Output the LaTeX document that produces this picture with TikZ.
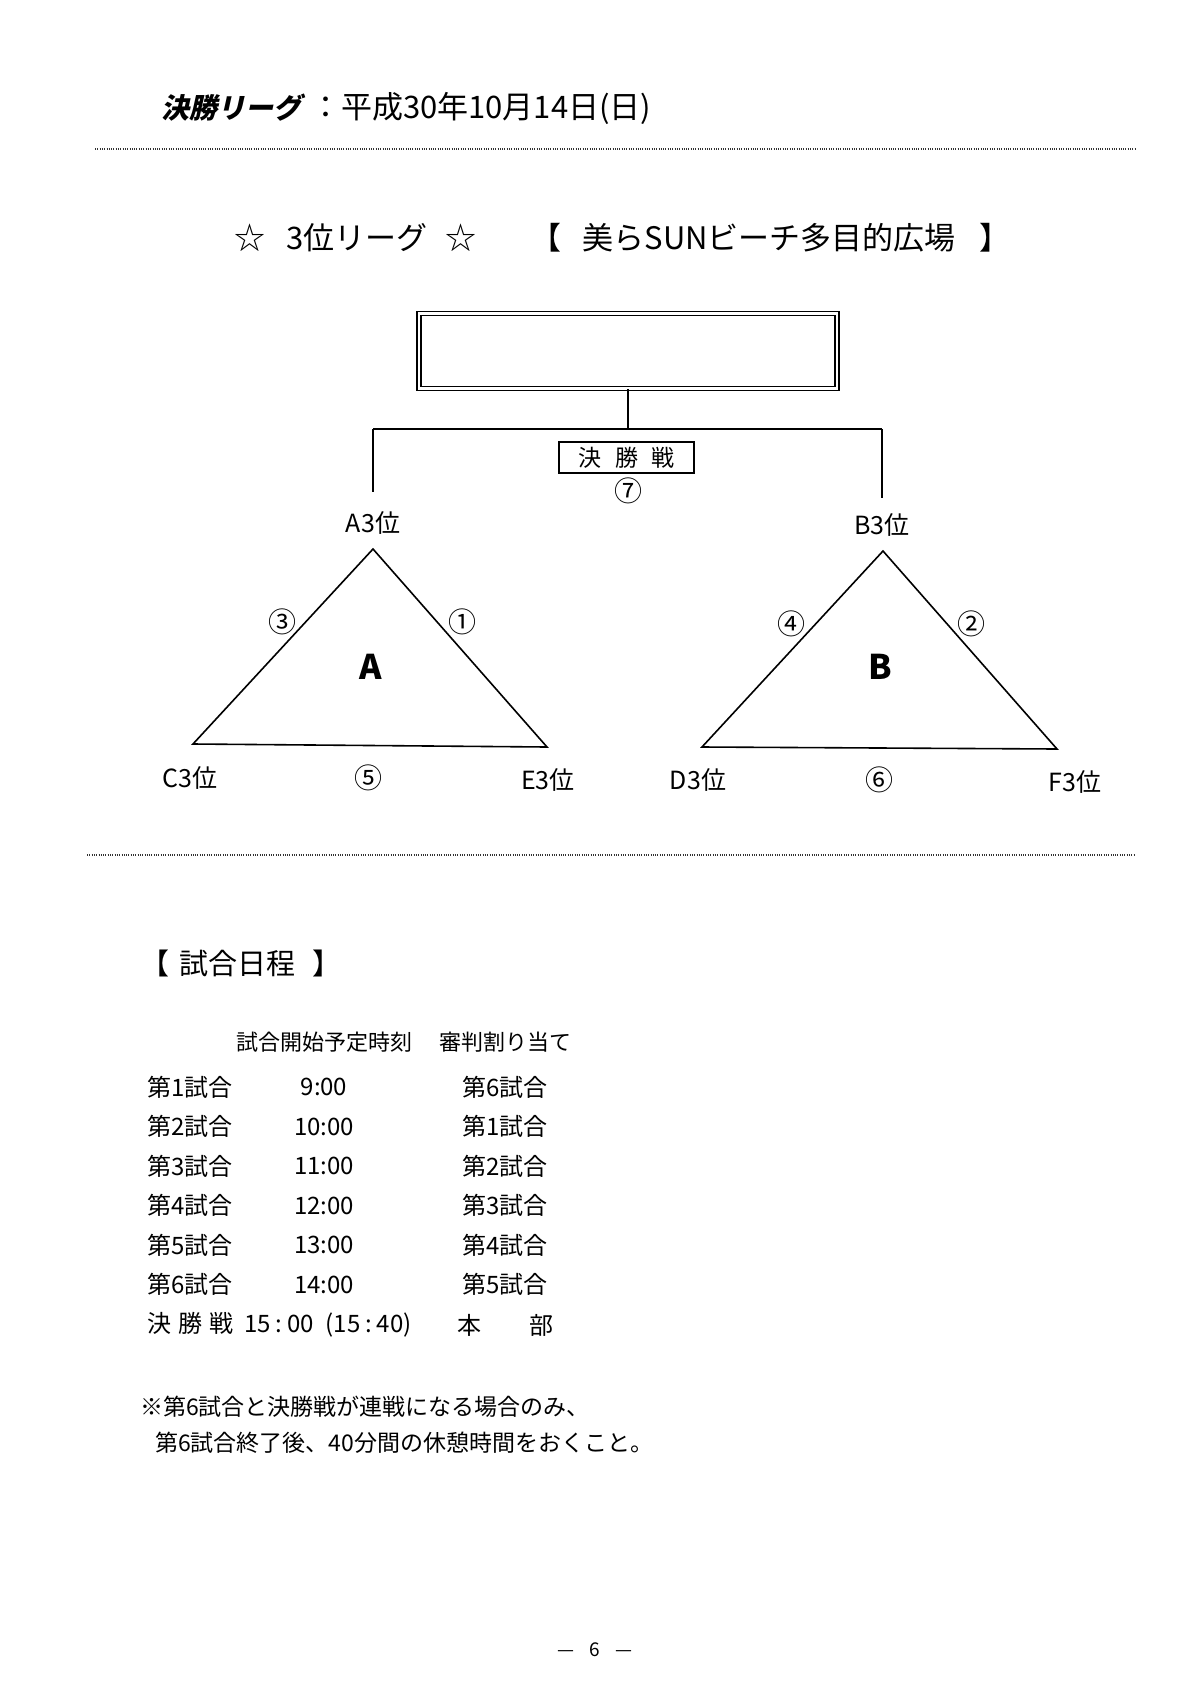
\documentclass[tikz,border=0pt]{standalone}
\usepackage{fontspec}
\setmainfont{Noto Sans CJK JP}
\newfontfamily\jpsl{Noto Sans CJK JP}[FakeSlant=0.22]
\tikzset{
  txt/.style={inner sep=0pt, outer sep=0pt},
  lbl/.style={txt, font=\fontsize{12.5}{14}\selectfont},
  cnum/.style={txt, font=\fontsize{14}{16}\selectfont},
  big/.style={txt, font=\bfseries\fontsize{17}{19}\selectfont},
  head/.style={txt, font=\fontsize{15.5}{18}\selectfont},
  tbl/.style={txt, font=\fontsize{12}{14}\selectfont},
  thd/.style={txt, font=\fontsize{11}{13}\selectfont},
  note/.style={txt, font=\fontsize{11.5}{13}\selectfont},
  tri/.style={line width=0.8pt, line join=miter},
  conn/.style={line width=0.8pt},
  dotline/.style={line width=1pt, dash pattern=on 0.45pt off 0.7pt, black!80},
}
\begin{document}
\begin{tikzpicture}[x=0.5pt, y=-0.5pt]
\useasboundingbox (0,0) rectangle (1200,1697);

% title
\node[txt, anchor=west, font=\jpsl\bfseries\fontsize{14}{16}\selectfont] (ttl) at (161,108) {決勝リーグ};
\node[txt, anchor=west, font=\fontsize{15.5}{18}\selectfont] (date) at (310,108) {：平成30年10月14日(日)};

% dotted rules
\coordinate (d1a) at (95,149); \coordinate (d1b) at (1136,149);
\draw[dotline] (d1a) -- (d1b);
\coordinate (d2a) at (87,855); \coordinate (d2b) at (1134,855);
\draw[dotline] (d2a) -- (d2b);

% header
\node[head] (st1) at (250,238) {☆};
\node[head, anchor=west] (lg) at (286,238) {3位リーグ};
\node[head] (st2) at (461,238) {☆};
\node[head, anchor=west] (venue) at (530,238) {【\hspace{0.7em}美らSUNビーチ多目的広場\hspace{0.75em}】};

% winner box
\node[draw, double, line width=0.7pt, double distance=1.4pt, minimum width=209pt, minimum height=37.5pt, inner sep=0pt] (top) at (628,351) {};
\coordinate (jm) at (628,429);
\coordinate (jl) at (373,429);
\coordinate (jr) at (882,429);
\coordinate (el) at (373,492);
\coordinate (er) at (882,498);
\draw[conn] (top.south) -- (jm);
\draw[conn] (jl) -- (jr);
\draw[conn] (jl) -- (el);
\draw[conn] (jr) -- (er);

\node[draw, line width=0.75pt, minimum width=67.5pt, minimum height=15.5pt, inner sep=0pt, font=\fontsize{11.5}{13}\selectfont] (final) at (626.5,457.5) {決\hspace{0.6em}勝\hspace{0.6em}戦};
\node[cnum] (n7) at (628,491) {⑦};

\node[lbl] (a3) at (373,523) {A3位};
\node[lbl] (b3) at (882,525) {B3位};

% triangle A
\coordinate (Aa) at (373,549);
\coordinate (Ab) at (193,744);
\coordinate (Ac) at (547,747);
\draw[tri] (Aa) -- (Ab) -- (Ac) -- cycle;
\node[cnum] (n3) at (282,622) {③};
\node[cnum] (n1) at (462,622) {①};
\node[big] (gA) at (371,667) {A};
\node[lbl] (c3) at (190,778) {C3位};
\node[cnum] (n5) at (368,778) {⑤};
\node[lbl] (e3) at (548,780) {E3位};

% triangle B
\coordinate (Ba) at (883,551);
\coordinate (Bb) at (702,747);
\coordinate (Bc) at (1057,749);
\draw[tri] (Ba) -- (Bb) -- (Bc) -- cycle;
\node[cnum] (n4) at (791,624) {④};
\node[cnum] (n2) at (971,624) {②};
\node[big] (gB) at (880,667) {B};
\node[lbl] (d3) at (698,780) {D3位};
\node[cnum] (n6) at (879,780) {⑥};
\node[lbl] (f3) at (1075,782) {F3位};

% schedule
\node[txt, anchor=west, font=\fontsize{14.5}{16}\selectfont] (sch) at (140,963) {【\hspace{0.35em}試合日程\hspace{0.6em}】};
\node[thd] (hd1) at (324,1042) {試合開始予定時刻};
\node[thd] (hd2) at (505,1042) {審判割り当て};

\node[tbl, anchor=west] (r1a) at (147,1087) {第1試合};
\node[tbl] (r1b) at (324,1087) {9:00};
\node[tbl] (r1c) at (505,1087) {第6試合};
\node[tbl, anchor=west] (r2a) at (147,1126.5) {第2試合};
\node[tbl] (r2b) at (324,1126.5) {10:00};
\node[tbl] (r2c) at (505,1126.5) {第1試合};
\node[tbl, anchor=west] (r3a) at (147,1166) {第3試合};
\node[tbl] (r3b) at (324,1166) {11:00};
\node[tbl] (r3c) at (505,1166) {第2試合};
\node[tbl, anchor=west] (r4a) at (147,1205.5) {第4試合};
\node[tbl] (r4b) at (324,1205.5) {12:00};
\node[tbl] (r4c) at (505,1205.5) {第3試合};
\node[tbl, anchor=west] (r5a) at (147,1245) {第5試合};
\node[tbl] (r5b) at (324,1245) {13:00};
\node[tbl] (r5c) at (505,1245) {第4試合};
\node[tbl, anchor=west] (r6a) at (147,1284.5) {第6試合};
\node[tbl] (r6b) at (324,1284.5) {14:00};
\node[tbl] (r6c) at (505,1284.5) {第5試合};
\node[tbl, anchor=west] (r7a) at (147,1325) {決\hspace{0.3em}勝\hspace{0.3em}戦\hspace{0.45em}15\hspace{0.2em}:\hspace{0.2em}00\hspace{0.5em}(15\hspace{0.2em}:\hspace{0.2em}40)};
\node[tbl] (r7c) at (505,1325) {本　　部};

% note
\node[note, anchor=west] (nt1) at (140,1407) {※第6試合と決勝戦が連戦になる場合のみ、};
\node[note, anchor=west] (nt2) at (155,1443) {第6試合終了後、40分間の休憩時間をおくこと。};

% page number
\node[txt, font=\fontsize{9.5}{11}\selectfont] (pg) at (595,1650) {—\hspace{0.8em}6\hspace{0.8em}—};
\end{tikzpicture}
\end{document}
